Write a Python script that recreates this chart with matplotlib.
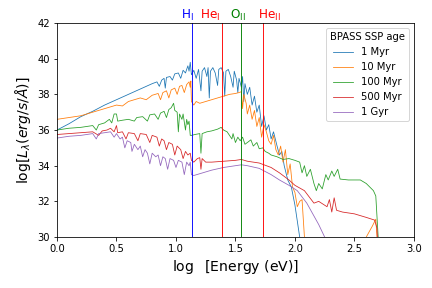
import numpy as np
import matplotlib
matplotlib.use("Agg")
import matplotlib.pyplot as plt

# ---- data (log E [eV], log L_lambda) ----
x_1myr = [0.00, 0.10, 0.20, 0.30, 0.40, 0.50, 0.60, 0.70, 0.80, 0.84, 0.86, 0.88, 0.90, 0.91,
          0.92, 0.95, 0.97, 0.99, 1.02, 1.04, 1.06, 1.08, 1.10, 1.11, 1.12, 1.13, 1.15, 1.17,
          1.19, 1.21, 1.22, 1.24, 1.26, 1.27, 1.28, 1.29, 1.31, 1.33, 1.35, 1.36, 1.38, 1.40,
          1.41, 1.42, 1.44, 1.46, 1.48, 1.49, 1.51, 1.52, 1.53, 1.55, 1.56, 1.57, 1.58, 1.60,
          1.62, 1.64, 1.66, 1.68, 1.70, 1.72, 1.74, 1.76, 1.78, 1.80, 1.82, 1.85, 1.87, 1.89,
          1.91, 1.94, 1.97, 2.00, 2.04, 2.06]
y_1myr = [36.00, 36.35, 36.75, 37.05, 37.40, 37.70, 38.00, 38.30, 38.60, 38.70, 38.45, 38.80, 38.90, 38.35,
          38.95, 39.00, 38.80, 39.15, 39.20, 38.90, 39.35, 39.20, 39.60, 39.30, 39.80, 39.10, 39.35, 38.90,
          39.40, 38.20, 39.30, 39.50, 39.00, 39.50, 37.80, 39.30, 39.50, 39.20, 38.50, 39.40, 39.50, 39.20,
          37.90, 39.30, 39.40, 39.00, 38.40, 39.30, 38.80, 38.10, 38.90, 38.40, 39.00, 37.60, 38.60, 38.00,
          38.40, 37.40, 37.90, 37.00, 37.40, 36.20, 36.80, 36.00, 36.30, 35.50, 35.90, 35.10, 34.60, 34.80,
          34.00, 33.20, 32.80, 31.80, 30.00, 29.50]

x_10myr = [0.00, 0.10, 0.20, 0.30, 0.40, 0.50, 0.55, 0.60, 0.70, 0.75, 0.80, 0.85, 0.87, 0.89,
           0.92, 0.94, 0.96, 0.99, 1.01, 1.03, 1.05, 1.07, 1.09, 1.11, 1.12, 1.125, 1.13, 1.15,
           1.17, 1.20, 1.25, 1.30, 1.35, 1.40, 1.45, 1.50, 1.53, 1.55, 1.56, 1.57, 1.59, 1.60,
           1.62, 1.64, 1.66, 1.68, 1.70, 1.72, 1.74, 1.76, 1.78, 1.80, 1.82, 1.84, 1.86, 1.88,
           1.90, 1.92, 1.94, 1.96, 1.98, 2.00, 2.02, 2.04, 2.06, 2.08, 2.10, 2.57, 2.60, 2.65,
           2.68, 2.70]
y_10myr = [36.60, 36.70, 36.80, 37.00, 37.20, 37.40, 37.35, 37.60, 37.80, 37.70, 37.95, 38.05, 37.70, 38.10,
           38.20, 37.80, 38.25, 38.35, 38.00, 38.45, 38.50, 38.10, 38.55, 38.70, 38.40, 38.75, 37.60, 37.40,
           37.60, 37.50, 37.60, 37.70, 37.80, 37.90, 38.00, 38.05, 38.10, 38.15, 37.20, 38.00, 37.50, 36.90,
           37.40, 36.60, 37.10, 36.20, 36.70, 35.60, 36.30, 35.90, 35.40, 35.20, 35.70, 34.90, 34.60, 35.10,
           34.20, 34.90, 33.50, 34.10, 32.80, 32.50, 31.70, 32.00, 32.10, 30.00, 29.00, 29.50, 30.00, 30.60,
           31.00, 29.00]

x_100myr = [0.00, 0.10, 0.20, 0.30, 0.33, 0.35, 0.40, 0.44, 0.46, 0.48, 0.50, 0.51, 0.55, 0.60,
            0.65, 0.67, 0.72, 0.76, 0.78, 0.82, 0.85, 0.87, 0.90, 0.92, 0.94, 0.96, 0.98, 0.99,
            1.01, 1.02, 1.03, 1.05, 1.06, 1.08, 1.09, 1.10, 1.11, 1.12, 1.13, 1.16, 1.20, 1.21,
            1.22, 1.26, 1.30, 1.35, 1.38, 1.40, 1.43, 1.45, 1.47, 1.48, 1.50, 1.52, 1.54, 1.56,
            1.58, 1.60, 1.63, 1.65, 1.68, 1.70, 1.73, 1.75, 1.78, 1.80, 1.85, 1.90, 1.95, 2.00,
            2.04, 2.06, 2.08, 2.10, 2.13, 2.16, 2.18, 2.20, 2.23, 2.26, 2.28, 2.31, 2.33, 2.36,
            2.38, 2.45, 2.55, 2.60, 2.66, 2.68, 2.70, 2.71]
y_100myr = [36.00, 36.10, 36.15, 36.25, 36.00, 36.30, 36.40, 36.60, 36.40, 36.90, 36.90, 36.50, 36.55, 36.60,
            36.50, 36.70, 36.75, 36.50, 36.85, 36.90, 36.60, 36.95, 37.05, 36.70, 37.15, 37.25, 37.50, 37.10,
            37.00, 35.90, 36.90, 36.60, 36.90, 36.00, 36.60, 36.30, 36.50, 35.70, 35.70, 35.75, 35.80, 34.70,
            35.80, 35.90, 35.95, 36.05, 36.15, 36.00, 35.90, 35.70, 35.50, 35.80, 35.30, 35.60, 35.40, 35.60,
            35.20, 35.30, 35.45, 35.10, 35.30, 34.95, 35.00, 34.80, 34.70, 34.60, 34.50, 34.35, 34.40, 34.30,
            34.20, 33.60, 34.00, 33.40, 33.80, 33.00, 32.60, 33.00, 32.70, 33.50, 33.20, 33.70, 33.40, 33.80,
            33.25, 33.20, 33.20, 33.00, 32.60, 32.30, 30.00, 29.00]

x_500myr = [0.00, 0.10, 0.20, 0.30, 0.35, 0.38, 0.42, 0.45, 0.48, 0.50, 0.51, 0.55, 0.58, 0.60,
            0.65, 0.68, 0.70, 0.75, 0.78, 0.80, 0.84, 0.86, 0.88, 0.90, 0.92, 0.94, 0.97, 0.99,
            1.01, 1.04, 1.06, 1.08, 1.10, 1.12, 1.13, 1.15, 1.18, 1.20, 1.21, 1.22, 1.25, 1.30,
            1.40, 1.50, 1.55, 1.60, 1.70, 1.80, 1.87, 1.95, 2.00, 2.08, 2.16, 2.20, 2.27, 2.29,
            2.31, 2.33, 2.35, 2.40, 2.50, 2.60, 2.67, 2.69, 2.70]
y_500myr = [35.75, 35.80, 35.85, 35.90, 35.70, 35.95, 36.00, 36.10, 35.90, 36.25, 35.85, 35.90, 35.50, 35.85,
            35.80, 35.40, 35.80, 35.75, 35.30, 35.70, 35.60, 35.10, 35.50, 35.40, 34.90, 35.30, 35.20, 34.60,
            35.10, 34.90, 34.40, 34.80, 34.60, 34.70, 34.30, 34.20, 34.40, 34.45, 33.80, 34.40, 34.20, 34.20,
            34.25, 34.30, 34.35, 34.25, 34.15, 33.90, 33.60, 33.20, 32.90, 32.60, 31.90, 32.00, 31.70, 32.10,
            31.40, 32.20, 31.50, 31.40, 31.30, 31.10, 30.95, 30.50, 29.00]

x_1gyr = [0.00, 0.10, 0.20, 0.30, 0.33, 0.35, 0.40, 0.45, 0.48, 0.50, 0.53, 0.55, 0.57, 0.59,
          0.62, 0.63, 0.65, 0.68, 0.70, 0.72, 0.74, 0.76, 0.78, 0.80, 0.83, 0.85, 0.87, 0.89,
          0.91, 0.93, 0.95, 0.98, 1.00, 1.02, 1.05, 1.07, 1.09, 1.11, 1.12, 1.13, 1.15, 1.20,
          1.30, 1.40, 1.50, 1.55, 1.60, 1.70, 1.80, 1.87, 1.95, 2.02, 2.10, 2.20, 2.25, 2.27]
y_1gyr = [35.55, 35.65, 35.70, 35.80, 35.50, 35.80, 35.85, 35.90, 35.60, 35.80, 35.50, 35.60, 35.00, 35.40,
          35.30, 34.80, 35.20, 34.90, 35.10, 34.50, 34.90, 34.70, 34.10, 34.70, 34.50, 34.60, 34.00, 34.50,
          34.40, 33.80, 34.40, 34.30, 33.90, 34.30, 34.20, 33.50, 34.20, 34.00, 34.20, 33.50, 33.45, 33.55,
          33.75, 33.90, 34.00, 34.05, 34.00, 33.85, 33.50, 33.20, 32.90, 32.60, 31.90, 30.70, 30.00, 29.50]

series_labels = ["1 Myr", "10 Myr", "100 Myr", "500 Myr", "1 Gyr"]
series_x = [x_1myr, x_10myr, x_100myr, x_500myr, x_1gyr]
series_y = [y_1myr, y_10myr, y_100myr, y_500myr, y_1gyr]
series_colors = ["tab:blue", "tab:orange", "tab:green", "tab:red", "tab:purple"]

# ionization edges (log eV) and labels
edge_x = [1.1335, 1.391, 1.545, 1.7356]
edge_labels = [r"H$_{\rm I}$", r"He$_{\rm I}$", r"O$_{\rm II}$", r"He$_{\rm II}$"]
edge_colors = ["blue", "red", "green", "red"]
edge_label_x = [1.04, 1.20, 1.452, 1.688]

fig = plt.figure(figsize=(6, 4), dpi=72)
ax = fig.add_axes([0.132, 0.177, 0.826, 0.743])

for xs, ys, lab, c in zip(series_x, series_y, series_labels, series_colors):
    ax.plot(xs, ys, color=c, lw=0.8, label=lab)

for ex, el, ec, lx in zip(edge_x, edge_labels, edge_colors, edge_label_x):
    ax.axvline(ex, color=ec, lw=0.9)
    ax.text(lx, 42.0, el, color=ec, fontsize=12, ha="left", va="bottom")

ax.set_xlim(0, 3)
ax.set_ylim(30, 42)
ax.set_xticks([0.0, 0.5, 1.0, 1.5, 2.0, 2.5, 3.0])
ax.set_yticks([30, 32, 34, 36, 38, 40, 42])
ax.set_xlabel(r"$\log$  [Energy (eV)]", fontsize=14)
ax.set_ylabel(r"$\log[L_{\lambda}(erg/s/\AA)]$", fontsize=14)
ax.legend(title="BPASS SSP age", loc="upper right", fontsize=10, title_fontsize=10)

fig.savefig("out.png", dpi=72)
